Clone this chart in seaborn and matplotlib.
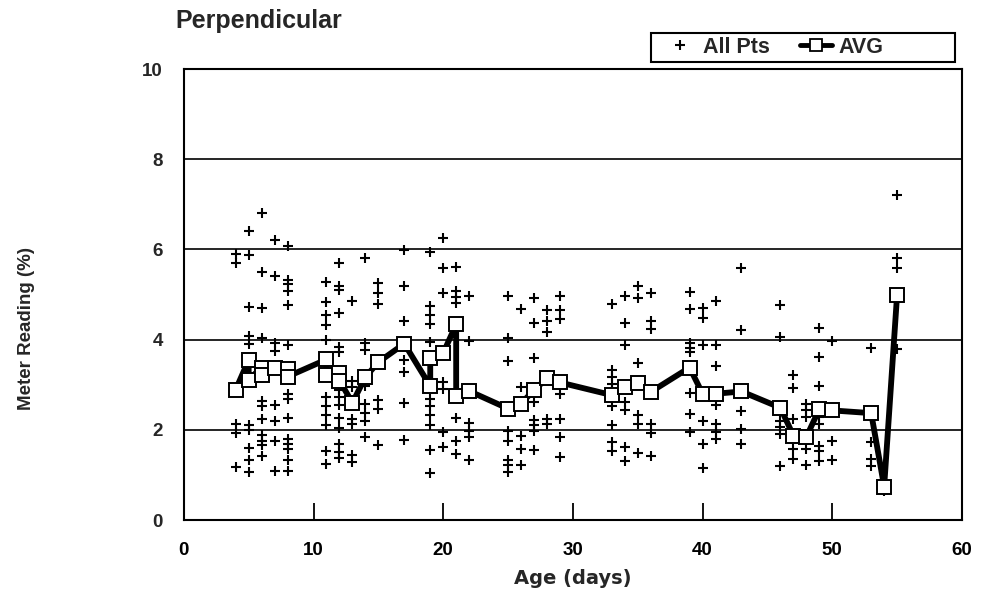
import matplotlib
matplotlib.use("Agg")
import matplotlib.pyplot as plt
import seaborn as sns
import pandas as pd
from matplotlib.lines import Line2D
from matplotlib.patches import Rectangle

# Individual meter readings, grouped by specimen age (days)
point_days = [4, 5, 6, 7, 8, 11, 12, 13, 14, 15, 17, 19, 20, 21, 22, 25, 26,
              27, 28, 29, 33, 34, 35, 36, 39, 40, 41, 43, 46, 47, 48, 49, 50,
              53, 54, 55]
point_readings = [
    [5.90, 5.70, 2.12, 1.94, 1.17],
    [6.41, 5.88, 4.72, 4.09, 3.90, 2.11, 1.99, 1.60, 1.34, 1.07],
    [6.81, 5.51, 4.70, 4.03, 2.64, 2.53, 2.25, 1.89, 1.76, 1.67, 1.42],
    [6.21, 5.40, 3.92, 3.75, 2.54, 2.19, 1.76, 1.09],
    [6.08, 5.32, 5.23, 5.07, 4.77, 3.88, 2.79, 2.68, 2.27, 1.79, 1.68, 1.57, 1.33, 1.08],
    [5.27, 4.83, 4.54, 4.32, 4.00, 2.73, 2.53, 2.32, 2.10, 1.52, 1.25],
    [5.70, 5.20, 5.10, 4.60, 3.83, 3.72, 2.88, 2.73, 2.56, 2.27, 2.03, 1.69, 1.50, 1.37],
    [4.86, 3.08, 2.96, 2.24, 2.13, 1.44, 1.28],
    [5.80, 3.93, 3.78, 2.98, 2.58, 2.37, 2.19, 1.84],
    [5.26, 5.04, 4.80, 2.67, 2.46, 1.67],
    [5.99, 5.20, 4.42, 3.55, 3.29, 2.59, 1.78],
    [5.95, 4.74, 4.54, 4.35, 3.94, 2.69, 2.52, 2.32, 2.10, 1.56, 1.05],
    [6.25, 5.59, 5.03, 3.05, 2.90, 1.96, 1.62],
    [5.60, 5.07, 4.95, 4.82, 2.27, 1.75, 1.46],
    [4.97, 3.97, 2.15, 1.97, 1.84, 1.34],
    [4.97, 4.04, 3.52, 1.98, 1.76, 1.34, 1.21, 1.06],
    [4.67, 2.94, 1.87, 1.58, 1.21],
    [4.92, 4.37, 3.60, 2.62, 2.22, 2.10, 1.98, 1.55],
    [4.66, 4.42, 4.16, 2.25, 2.12],
    [4.97, 4.66, 4.45, 2.80, 2.25, 1.83, 1.40],
    [4.80, 3.32, 3.17, 3.01, 2.88, 2.52, 2.10, 1.72, 1.54],
    [4.96, 4.36, 3.87, 2.61, 2.44, 1.63, 1.31],
    [5.19, 4.93, 3.48, 2.33, 2.14, 1.49],
    [5.04, 4.42, 4.23, 2.13, 1.94, 1.43],
    [5.05, 4.68, 3.92, 3.81, 3.72, 2.82, 2.34, 1.95],
    [4.71, 4.47, 3.88, 2.20, 1.69, 1.15],
    [4.85, 3.88, 3.41, 2.55, 2.13, 1.96, 1.80],
    [5.58, 4.21, 2.42, 2.02, 1.68],
    [4.77, 4.05, 2.20, 2.06, 1.91, 1.19],
    [3.22, 2.93, 2.25, 1.58, 1.36],
    [2.58, 2.43, 2.29, 1.57, 1.23],
    [4.26, 3.62, 2.98, 2.28, 2.13, 1.64, 1.53, 1.31],
    [3.97, 1.76, 1.34],
    [3.82, 1.73, 1.36, 1.20],
    [0.65],
    [7.20, 5.81, 5.59, 3.79],
]

# Average reading per test set (some ages have two sets)
avg_days = [4, 5, 5, 6, 6, 7, 8, 8, 11, 11, 12, 12, 13, 14, 15, 17, 19, 19,
            20, 21, 21, 22, 25, 26, 27, 28, 29, 33, 34, 35, 36, 39, 40, 41,
            43, 46, 47, 48, 49, 50, 53, 54, 55]
avg_readings = [2.89, 3.55, 3.11, 3.38, 3.22, 3.36, 3.35, 3.18, 3.56, 3.21,
                3.27, 3.09, 2.60, 3.17, 3.50, 3.91, 2.97, 3.60, 3.70, 4.34,
                2.76, 2.86, 2.47, 2.58, 2.88, 3.14, 3.05, 2.77, 2.96, 3.04,
                2.84, 3.38, 2.80, 2.80, 2.85, 2.49, 1.87, 1.84, 2.46, 2.43,
                2.37, 0.74, 5.00]

x_ticks = [0, 10, 20, 30, 40, 50, 60]
y_ticks = [0, 2, 4, 6, 8, 10]

pts = pd.DataFrame(
    [(d, r) for d, rs in zip(point_days, point_readings) for r in rs],
    columns=["day", "reading"],
)
avg = pd.DataFrame({"day": avg_days, "reading": avg_readings})

sns.set_style("white")
plt.rcParams["font.family"] = ["Liberation Sans", "DejaVu Sans"]

fig = plt.figure(figsize=(9.83, 5.92), dpi=100)
ax = fig.add_axes([0.187, 0.1216, 0.7916, 0.7618])

sns.scatterplot(data=pts, x="day", y="reading", marker="+", color="black",
                s=60, linewidth=1.5, ax=ax, legend=False, zorder=3)
sns.lineplot(data=avg, x="day", y="reading", estimator=None, sort=False,
             color="black", linewidth=4.2, marker="s", markersize=9.5,
             markerfacecolor="white", markeredgecolor="black",
             markeredgewidth=1.4, ax=ax, zorder=4)

ax.set_xlim(0, 60)
ax.set_ylim(0, 10)
ax.set_xticks(x_ticks)
ax.set_yticks(y_ticks)
ax.set_xticklabels([str(t) for t in x_ticks], fontsize=13.5, fontweight="bold")
ax.set_yticklabels([str(t) for t in y_ticks], fontsize=13.5, fontweight="bold")
ax.grid(axis="y", color="black", linewidth=1.2)
ax.grid(axis="x", visible=False)
ax.set_axisbelow(True)
ax.tick_params(axis="x", direction="in", length=12, width=1.3, pad=16,
               bottom=True, colors="black")
ax.tick_params(axis="y", length=0, pad=15)
for side in ["left", "right", "top", "bottom"]:
    ax.spines[side].set_color("black")
    ax.spines[side].set_linewidth(1.5)

ax.set_xlabel("Age (days)", fontsize=14, fontweight="bold",
              fontfamily="DejaVu Sans", labelpad=7)
ax.set_ylabel("")
fig.text(0.027, 0.445, "Meter Reading (%)", rotation=90, ha="center",
         va="center", fontsize=13.5, fontweight="bold")
fig.text(175 / 983, 1 - 28 / 592, "Perpendicular", ha="left", va="baseline",
         fontsize=18, fontweight="bold")

# Legend box above the plot area
fig.patches.append(Rectangle((651 / 983, 1 - 62 / 592), 304 / 983, 29 / 592,
                             transform=fig.transFigure, fill=False,
                             edgecolor="black", linewidth=1.5))
handles = [
    Line2D([], [], linestyle="none", marker="+", color="black",
           markersize=7, markeredgewidth=1.5),
    Line2D([], [], color="black", linewidth=3.5, marker="s", markersize=9,
           markerfacecolor="white", markeredgecolor="black",
           markeredgewidth=1.3),
]
fig.legend(handles, ["All Pts", "AVG"], loc="center left",
           bbox_to_anchor=(664 / 983, 1 - 47.5 / 592), ncol=2, frameon=False,
           handlelength=1.5, handletextpad=0.3, columnspacing=1.4,
           borderaxespad=0, borderpad=0,
           prop={"size": 15.5, "weight": "bold"})

fig.savefig("out.png", dpi=100, facecolor="white")
